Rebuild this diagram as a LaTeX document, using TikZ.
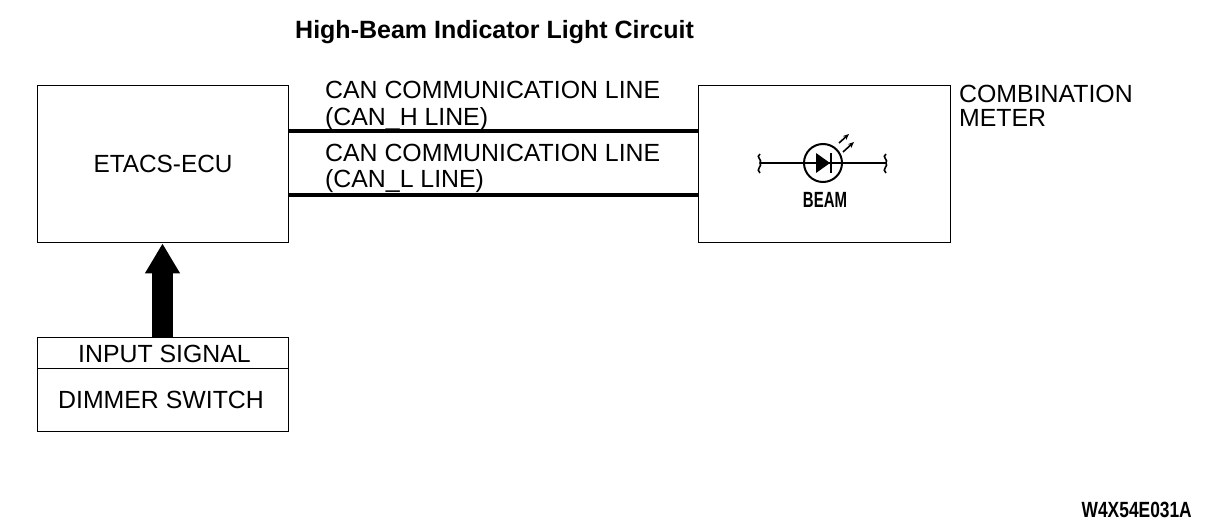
\documentclass[tikz,border=0pt]{standalone}
\usepackage{fontspec}
\setmainfont{Liberation Sans}
\usetikzlibrary{arrows.meta}
\tikzset{
  x=1pt,y=-1pt,
  box/.style={draw,line width=1.8pt,inner sep=0pt,anchor=north west},
  txt/.style={inner sep=0pt,font=\fontsize{24.85}{25}\selectfont},
  lbl/.style={txt,anchor=base west},
  bus/.style={line width=4pt},
  sym/.style={line width=2pt},
  lead/.style={line width=1.6pt},
  ray/.style={line width=1.6pt,-{Stealth[length=6pt,width=5pt]}},
  narrowbold/.style={inner sep=0pt,font=\fontsize{22}{22}\selectfont\bfseries}
}
\begin{document}
\begin{tikzpicture}
\useasboundingbox (0,0) rectangle (1216,530);
\node[inner sep=0pt,anchor=base west,font=\fontsize{25}{25}\selectfont\bfseries] (title) at (295,38) {High-Beam Indicator Light Circuit};
\node[box,minimum width=251pt,minimum height=157pt] (etacs) at (36.6,84.6) {};
\node[txt] (etacslabel) at (163,164) {\scalebox{0.98}[1]{ETACS-ECU}};
\node[box,minimum width=252pt,minimum height=157pt] (meter) at (697.6,84.6) {};
\node[lbl] (combo1) at (959,102) {COMBINATION};
\node[lbl] (combo2) at (959,126) {METER};
\coordinate (canh) at (490,131);
\coordinate (canl) at (490,195);
\draw[bus] (etacs.east |- canh) -- (meter.west |- canh);
\draw[bus] (etacs.east |- canl) -- (meter.west |- canl);
\node[lbl] (h1) at (325,98) {CAN COMMUNICATION LINE};
\node[lbl] (h2) at (325,125) {(CAN\_H LINE)};
\node[lbl] (l1) at (325,161) {CAN COMMUNICATION LINE};
\node[lbl] (l2) at (325,187) {(CAN\_L LINE)};
\node[box,minimum width=251pt,minimum height=94pt] (input) at (36.6,336.6) {};
\coordinate (divl) at (37,368);
\draw[line width=1pt] (divl) -- (input.east |- divl);
\node[txt] (inputlabel) at (164.5,354) {INPUT SIGNAL};
\node[txt] (dimmer) at (161,400) {DIMMER SWITCH};
\coordinate (arrowx) at (162.5,300);
\draw[line width=21pt,-{Triangle[length=30pt,width=33pt]}] (input.north -| arrowx) -- (etacs.south -| arrowx);
% lamp symbol
\node[draw,circle,line width=2pt,minimum size=38pt,inner sep=0pt] (lamp) at (823,163) {};
\coordinate (wl) at (761,163);
\coordinate (wr) at (887,163);
\draw[sym] (wl) -- (wr);
\fill (816,153) -- (830,163) -- (816,173) -- cycle;
\draw[sym] (831,153) -- (831,173);
\draw[lead] (760,154) .. controls (755,157) and (763,160) .. (760,163) .. controls (763,166) and (755,169) .. (760,173);
\draw[lead] (886,154) .. controls (881,157) and (889,160) .. (886,163) .. controls (889,166) and (881,169) .. (886,173);
\draw[ray] (839,143) -- (849,134);
\draw[ray] (843,152) -- (854,142);
\node[narrowbold] (beam) at (825,200) {\scalebox{0.68}[1]{BEAM}};
\node[narrowbold,anchor=base east] (code) at (1192,517) {\scalebox{0.79}[1]{W4X54E031A}};
\end{tikzpicture}
\end{document}
